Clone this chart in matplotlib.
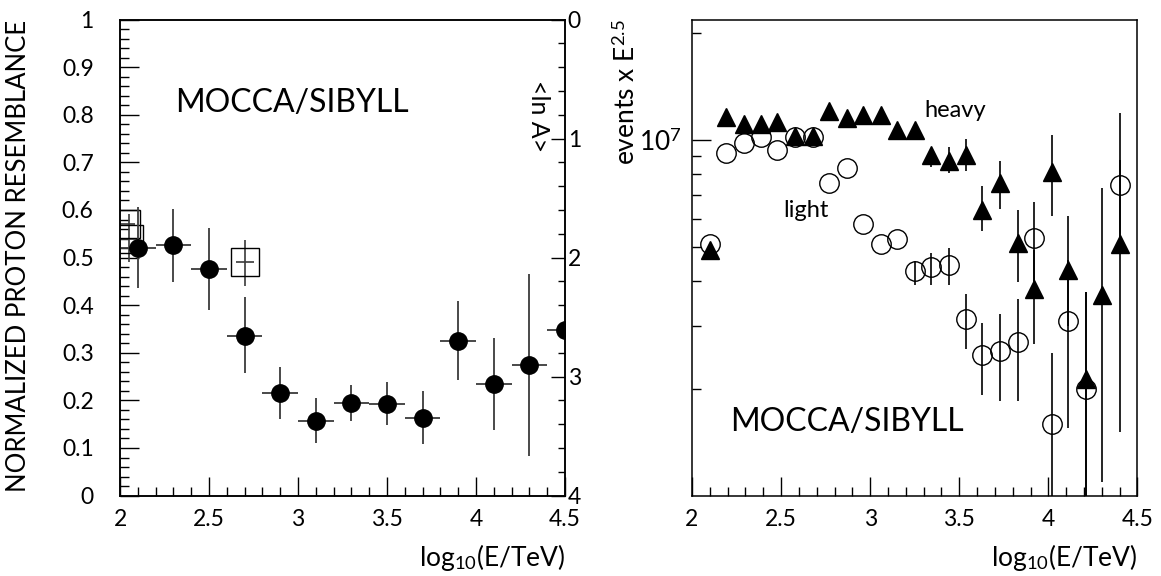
import numpy as np
import matplotlib
matplotlib.use("Agg")
import matplotlib.pyplot as plt
from matplotlib.ticker import FixedLocator, NullFormatter, FixedFormatter

plt.rcParams['font.family'] = ['Lato', 'DejaVu Sans']
plt.rcParams['font.weight'] = 'normal'
plt.rcParams['mathtext.fontset'] = 'custom'
plt.rcParams['mathtext.rm'] = 'Lato'
plt.rcParams['mathtext.it'] = 'Lato:italic'
plt.rcParams['mathtext.bf'] = 'Lato:bold'

# ---------------- left panel data ----------------
left_x = [2.1, 2.3, 2.5, 2.7, 2.9, 3.1, 3.3, 3.5, 3.7, 3.9, 4.1, 4.3, 4.5]
left_y = [0.521, 0.526, 0.476, 0.336, 0.215, 0.157, 0.194, 0.193, 0.163, 0.324, 0.235, 0.274, 0.348]
left_lo = [0.437, 0.448, 0.389, 0.257, 0.161, 0.110, 0.156, 0.148, 0.108, 0.242, 0.138, 0.083, 0.348]
left_hi = [0.607, 0.602, 0.562, 0.417, 0.270, 0.205, 0.233, 0.238, 0.220, 0.408, 0.331, 0.465, 0.348]
left_xerr = 0.1

sq_x = [2.034, 2.05, 2.7]
sq_y = [0.570, 0.539, 0.490]
sq_lo = [0.570, 0.490, 0.441]
sq_hi = [0.570, 0.591, 0.537]
sq_xerr = 0.05

lnA_ticks = [0, 1, 2, 3, 4]

# ---------------- right panel data ----------------
right_x = [2.10, 2.19, 2.29, 2.39, 2.48, 2.58, 2.68, 2.77, 2.87, 2.96, 3.06, 3.15,
           3.25, 3.34, 3.44, 3.54, 3.63, 3.73, 3.83, 3.92, 4.02, 4.11, 4.21, 4.30, 4.40]
light_y = [5.10e6, 9.18e6, 9.80e6, 1.02e7, 9.40e6, 1.02e7, 1.02e7, 7.56e6, 8.36e6, 5.82e6,
           5.11e6, 5.28e6, 4.28e6, 4.40e6, 4.44e6, 3.13e6, 2.49e6, 2.55e6, 2.71e6, 5.31e6,
           1.59e6, 3.10e6, 1.99e6, np.nan, 7.48e6]
light_lo = [5.10e6, 9.18e6, 9.80e6, 1.02e7, 9.40e6, 1.02e7, 1.02e7, 7.56e6, 8.36e6, 5.82e6,
            5.11e6, 5.28e6, 3.90e6, 3.90e6, 3.90e6, 2.58e6, 1.92e6, 1.84e6, 1.85e6, 4.00e6,
            0.50e6, 1.55e6, 0.50e6, np.nan, 5.00e6]
light_hi = [5.10e6, 9.18e6, 9.80e6, 1.02e7, 9.40e6, 1.02e7, 1.02e7, 7.56e6, 8.36e6, 5.82e6,
            5.11e6, 5.28e6, 4.58e6, 4.82e6, 4.98e6, 3.68e6, 3.06e6, 3.25e6, 3.56e6, 6.70e6,
            2.52e6, 4.60e6, 3.73e6, np.nan, 1.19e7]
heavy_y = [4.92e6, 1.16e7, 1.11e7, 1.107e7, 1.125e7, 1.026e7, 1.026e7, 1.206e7, 1.15e7, 1.175e7,
           1.175e7, 1.067e7, 1.067e7, 9.08e6, 8.75e6, 9.08e6, 6.37e6, 7.55e6, 5.14e6, 3.82e6,
           8.10e6, 4.30e6, 2.13e6, 3.66e6, 5.10e6]
heavy_lo = [4.92e6, 1.16e7, 1.11e7, 1.107e7, 1.125e7, 1.026e7, 1.026e7, 1.206e7, 1.15e7, 1.175e7,
            1.175e7, 1.067e7, 1.067e7, 8.41e6, 8.07e6, 8.20e6, 5.56e6, 6.40e6, 3.98e6, 2.67e6,
            6.10e6, 3.00e6, 0.80e6, 1.09e6, 1.51e6]
heavy_hi = [4.92e6, 1.16e7, 1.11e7, 1.107e7, 1.125e7, 1.026e7, 1.026e7, 1.206e7, 1.15e7, 1.175e7,
            1.175e7, 1.067e7, 1.067e7, 9.25e6, 9.57e6, 1.005e7, 7.40e6, 8.73e6, 6.37e6, 4.90e6,
            1.03e7, 6.12e6, 3.74e6, 7.33e6, 8.80e6]

xticks_major = [2, 2.5, 3, 3.5, 4, 4.5]
xtick_labels = ['2', '2.5', '3', '3.5', '4', '4.5']

TICK_FS = 16.5
EC = '#3a3a3a'

fig = plt.figure(figsize=(11.61, 5.76), dpi=100)
axL = fig.add_axes([0.1034, 0.1396, 0.3833, 0.8264])
axR = fig.add_axes([0.5960, 0.1396, 0.3837, 0.8264])


def style_x(ax):
    ax.set_xlim(2, 4.5)
    ax.xaxis.set_major_locator(FixedLocator(xticks_major))
    ax.xaxis.set_major_formatter(FixedFormatter(xtick_labels))
    ax.xaxis.set_minor_locator(FixedLocator(np.arange(2.0, 4.51, 0.1)))
    ax.tick_params(axis='x', which='major', direction='in', length=13.5, width=1.0,
                   top=False, bottom=True, labelsize=TICK_FS, pad=9.5)
    ax.tick_params(axis='x', which='minor', direction='in', length=6.8, width=1.0,
                   top=False, bottom=True)
    for s in ax.spines.values():
        s.set_linewidth(1.1)
    ax.text(1.0, -0.13, r'log$_{\mathrm{10}}$(E/TeV)', transform=ax.transAxes,
            ha='right', va='center', fontsize=19)


# ---------------- left panel ----------------
lx = np.array(left_x); ly = np.array(left_y)
axL.errorbar(lx, ly, xerr=left_xerr,
             yerr=[ly - np.array(left_lo), np.array(left_hi) - ly],
             fmt='o', ms=12.5, mfc='black', mec='black', ecolor=EC,
             elinewidth=1.3, capsize=0, zorder=3)
sx = np.array(sq_x); sy = np.array(sq_y)
axL.errorbar(sx, sy, xerr=sq_xerr,
             yerr=[sy - np.array(sq_lo), np.array(sq_hi) - sy],
             fmt='s', ms=20, mfc='none', mec='black', mew=1.0, ecolor=EC,
             elinewidth=1.2, capsize=0, zorder=2)
axL.set_ylim(0, 1)
axL.yaxis.set_major_locator(FixedLocator(np.round(np.arange(0, 1.01, 0.1), 1)))
axL.yaxis.set_major_formatter(FixedFormatter(['0', '0.1', '0.2', '0.3', '0.4', '0.5',
                                              '0.6', '0.7', '0.8', '0.9', '1']))
axL.yaxis.set_minor_locator(FixedLocator(np.arange(0, 1.001, 0.02)))
axL.tick_params(axis='y', which='major', direction='in', length=13.5, width=1.0,
                right=False, labelsize=TICK_FS, pad=19)
axL.tick_params(axis='y', which='minor', direction='in', length=6.8, width=1.0, right=False)
style_x(axL)
axL.text(-0.229, 1.0, 'NORMALIZED PROTON RESEMBLANCE', transform=axL.transAxes,
         rotation=90, ha='center', va='top', fontsize=18.5)
axL.text(0.124, 0.824, 'MOCCA/SIBYLL', transform=axL.transAxes,
         ha='left', va='center', fontsize=23)

ax2 = axL.twinx()
ax2.set_ylim(4, 0)
ax2.yaxis.set_major_locator(FixedLocator(lnA_ticks))
ax2.yaxis.set_major_formatter(FixedFormatter([str(t) for t in lnA_ticks]))
ax2.yaxis.set_minor_locator(FixedLocator(np.arange(0, 4.001, 0.2)))
ax2.tick_params(axis='y', which='major', direction='in', length=10, width=1.0,
                labelsize=TICK_FS, pad=2)
ax2.tick_params(axis='y', which='minor', direction='in', length=4.7, width=1.0)
for s in ax2.spines.values():
    s.set_linewidth(1.1)
axL.text(0.94, 0.797, '<ln A>', transform=axL.transAxes, rotation=-90,
         ha='center', va='center', fontsize=18)

# ---------------- right panel ----------------
rx = np.array(right_x)
lyv = np.array(light_y)
axR.errorbar(rx, lyv, yerr=[lyv - np.array(light_lo), np.array(light_hi) - lyv],
             fmt='o', ms=14, mfc='none', mec='black', mew=1.0, ecolor='black',
             elinewidth=1.2, capsize=0, zorder=2)
hyv = np.array(heavy_y)
axR.errorbar(rx, hyv, yerr=[hyv - np.array(heavy_lo), np.array(heavy_hi) - hyv],
             fmt='^', ms=13, mfc='black', mec='black', ecolor='black',
             elinewidth=1.2, capsize=0, zorder=3)
axR.set_yscale('log')
axR.set_ylim(1.0e6, 2.18e7)
axR.yaxis.set_major_locator(FixedLocator([1e7]))
axR.yaxis.set_major_formatter(FixedFormatter([r'10$^{\mathrm{7}}$']))
axR.yaxis.set_minor_locator(FixedLocator([2e6, 3e6, 4e6, 5e6, 6e6, 7e6, 8e6, 9e6, 2e7]))
axR.yaxis.set_minor_formatter(NullFormatter())
axR.tick_params(axis='y', which='major', direction='in', length=13.5, width=1.0,
                right=False, labelsize=19, pad=7)
axR.tick_params(axis='y', which='minor', direction='in', length=6.8, width=1.0, right=False)
style_x(axR)
axR.text(-0.148, 1.0, r'events x E$^{\mathrm{2.5}}$', transform=axR.transAxes,
         rotation=90, ha='center', va='top', fontsize=19)
axR.text(0.521, 0.81, 'heavy', transform=axR.transAxes, ha='left', va='center', fontsize=17)
axR.text(0.206, 0.598, 'light', transform=axR.transAxes, ha='left', va='center', fontsize=17)
axR.text(0.085, 0.154, 'MOCCA/SIBYLL', transform=axR.transAxes,
         ha='left', va='center', fontsize=23)

fig.savefig('out.png', dpi=100)
